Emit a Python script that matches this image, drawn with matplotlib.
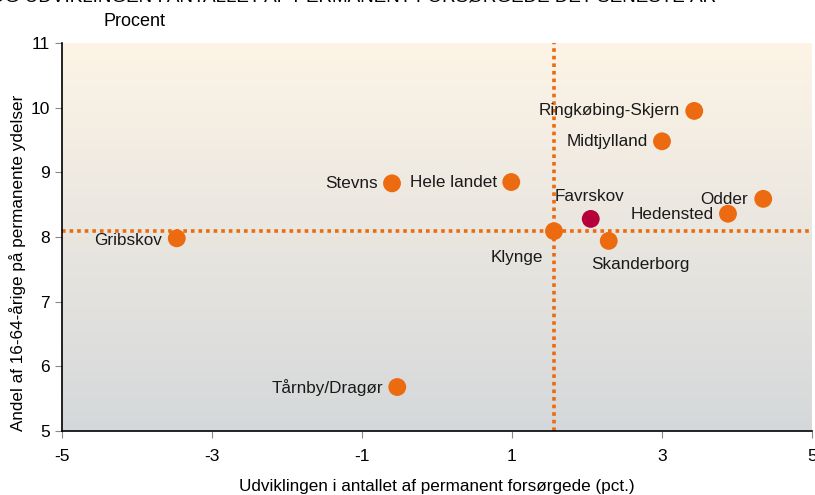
import matplotlib
matplotlib.use("Agg")
import matplotlib.pyplot as plt
import numpy as np
from matplotlib.colors import LinearSegmentedColormap

plt.rcParams['font.family'] = ['Liberation Sans', 'DejaVu Sans']

names = ["Ringkøbing-Skjern", "Midtjylland", "Hele landet", "Stevns", "Gribskov",
         "Klynge", "Favrskov", "Skanderborg", "Hedensted", "Odder", "Tårnby/Dragør"]
x_vals = [3.43, 3.00, 0.99, -0.60, -3.47, 1.56, 2.05, 2.29, 3.88, 4.35, -0.53]
y_vals = [9.95, 9.48, 8.85, 8.83, 7.98, 8.09, 8.28, 7.94, 8.36, 8.59, 5.68]
highlight = "Favrskov"
ref_x = 1.56
ref_y = 8.09

xticks = [-5, -3, -1, 1, 3, 5]
yticks = [5, 6, 7, 8, 9, 10, 11]

# label offsets in pixels (dx, dy, ha)
offsets = {
    "Ringkøbing-Skjern": (-14, 0, 'right'),
    "Midtjylland": (-14, 0, 'right'),
    "Hele landet": (-14, 0, 'right'),
    "Stevns": (-14, 0, 'right'),
    "Gribskov": (-15, -2, 'right'),
    "Klynge": (-11, -26, 'right'),
    "Favrskov": (-1, 22, 'center'),
    "Skanderborg": (32, -24, 'center'),
    "Hedensted": (-14, -1, 'right'),
    "Odder": (-15, -1, 'right'),
    "Tårnby/Dragør": (-14, 0, 'right'),
}

orange = "#ec6a10"
crimson = "#b5003c"

fig = plt.figure(figsize=(8.15, 4.95), dpi=100)
ax = fig.add_axes([0.0761, 0.1293, 0.9202, 0.7838])

cmap = LinearSegmentedColormap.from_list("bg", ["#d5d8da", "#fdf4e6"])
grad = np.linspace(0, 1, 256).reshape(-1, 1)
ax.imshow(grad, extent=[-5, 5, 5, 11], origin='lower', aspect='auto', cmap=cmap, zorder=0)

ax.axvline(ref_x, color=orange, lw=2.6, linestyle=(0, (1, 1.1)), zorder=1)
ax.axhline(ref_y, color=orange, lw=2.6, linestyle=(0, (1, 1.1)), zorder=1)

for n, x, y in zip(names, x_vals, y_vals):
    c = crimson if n == highlight else orange
    ax.scatter([x], [y], s=165, color=c, edgecolors='none', zorder=3)
    dx, dy, ha = offsets[n]
    ax.annotate(n, (x, y), xytext=(dx, dy), textcoords='offset pixels',
                ha=ha, va='center', fontsize=12.3, color='#1a1a1a', zorder=4)

ax.set_xlim(-5, 5)
ax.set_ylim(5, 11)
ax.set_xticks(xticks)
ax.set_yticks(yticks)
ax.set_xticklabels([str(t) for t in xticks])
ax.set_yticklabels([str(t) for t in yticks])
ax.tick_params(axis='both', labelsize=12.5, direction='out', length=5, width=0.8, color='#888888')
ax.tick_params(axis='x', pad=8)
ax.spines['top'].set_visible(False)
ax.spines['right'].set_visible(False)
ax.spines['left'].set_linewidth(1.2)
ax.spines['bottom'].set_linewidth(1.2)

ax.set_xlabel("Udviklingen i antallet af permanent forsørgede (pct.)", fontsize=12.3, labelpad=11)
fig.text(0.022, 0.469, "Andel af 16-64-årige på permanente ydelser", rotation=90,
         ha='center', va='center', fontsize=12.3)
fig.text(0.127, 0.956, "Procent", ha='left', va='center', fontsize=13)
fig.text(-0.012, 1.007, "OG UDVIKLINGEN I ANTALLET AF PERMANENT FORSØRGEDE DET SENESTE ÅR",
         ha='left', va='center', fontsize=13.6)

fig.savefig("out.png", dpi=100)
